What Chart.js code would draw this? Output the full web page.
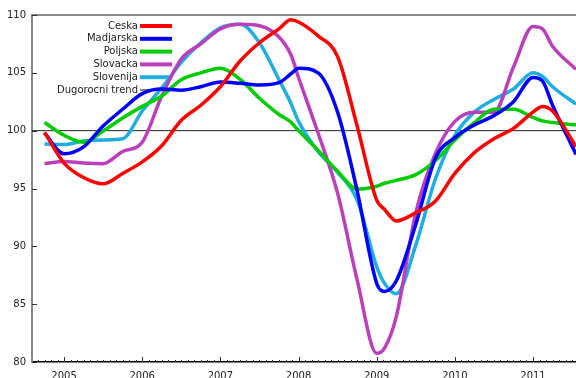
<!DOCTYPE html>
<html>
<head>
<meta charset="utf-8">
<script src="https://cdn.jsdelivr.net/npm/chart.js@4.4.1/dist/chart.umd.min.js"></script>
<style>
html,body{margin:0;padding:0;background:#fff;}
</style>
</head>
<body>
<canvas id="chart" width="576" height="378"></canvas>
<script>
// data (decimal years)
const years = [2004.75, 2005.0, 2005.25, 2005.5, 2005.75, 2006.0, 2006.25, 2006.5, 2006.75,
  2007.0, 2007.25, 2007.5, 2007.75, 2007.9, 2008.0, 2008.25, 2008.5, 2008.75,
  2009.0, 2009.1, 2009.25, 2009.5, 2009.75, 2010.0, 2010.25, 2010.5, 2010.75,
  2011.0, 2011.12, 2011.25, 2011.55];

const ceska = [99.85, 97.2, 95.95, 95.4, 96.3, 97.3, 98.7, 100.9, 102.2,
  103.8, 106.0, 107.6, 108.8, 109.6, 109.4, 108.2, 106.4, 100.4,
  94.0, 93.2, 92.2, 92.9, 93.9, 96.3, 98.1, 99.3, 100.2,
  101.6, 102.1, 101.7, 98.6];

const madjarska = [99.8, 98.0, 98.6, 100.4, 101.85, 103.2, 103.6, 103.5, 103.8,
  104.2, 104.1, 103.95, 104.15, 104.9, 105.4, 105.0, 101.6, 94.8,
  86.8, 86.1, 87.0, 91.9, 97.6, 99.4, 100.5, 101.3, 102.5,
  104.6, 104.3, 102.2, 97.95];

const poljska = [100.7, 99.6, 99.0, 99.97, 101.1, 102.1, 103.0, 104.4, 105.0,
  105.4, 104.45, 102.8, 101.4, 100.75, 100.0, 98.3, 96.5, 94.95,
  95.2, 95.45, 95.7, 96.2, 97.4, 99.2, 100.7, 101.85, 101.85,
  101.15, 100.85, 100.7, 100.5];

const slovacka = [97.15, 97.34, 97.2, 97.15, 98.2, 99.0, 103.0, 106.2, 107.5,
  108.8, 109.2, 109.07, 108.1, 106.6, 104.6, 99.8, 94.6, 87.1,
  80.75, 81.2, 83.9, 92.9, 98.0, 100.8, 101.6, 101.6, 105.5,
  109.0, 108.8, 107.3, 105.3];

const slovenija = [98.85, 98.8, 99.1, 99.2, 99.3, 101.7, 103.7, 105.9, 107.6,
  108.9, 109.2, 107.6, 104.4, 102.4, 100.8, 98.2, 96.4, 94.0,
  88.25, 86.8, 85.9, 90.1, 95.8, 99.6, 101.6, 102.7, 103.6,
  105.0, 104.7, 103.8, 102.3];

const trendYears = [2004.59, 2011.55];
const trendValues = [100, 100];

const yearTicks = [2005, 2006, 2007, 2008, 2009, 2010, 2011];
const valueTicks = [80, 85, 90, 95, 100, 105, 110];

const seriesNames = ['Ceska', 'Madjarska', 'Poljska', 'Slovacka', 'Slovenija'];
const seriesData = [ceska, madjarska, poljska, slovacka, slovenija];
const seriesColors = ['#ff0000', '#0000ff', '#00cc00', '#bb3fbb', '#1eaee0'];

const FONT = 'DejaVu Sans';
const TEXT = '#222';

const datasets = seriesData.map((vals, i) => ({
  label: seriesNames[i],
  data: vals.map((v, j) => ({x: years[j], y: v})),
  borderColor: seriesColors[i],
  borderWidth: 3.5,
  pointRadius: 0,
  cubicInterpolationMode: 'monotone',
  fill: false
}));

datasets.push({
  label: 'Dugorocni trend',
  data: trendValues.map((v, j) => ({x: trendYears[j], y: v})),
  borderColor: '#222',
  borderWidth: 1,
  pointRadius: 0,
  fill: false
});

// frame top, inward ticks, legend in the plot
const extras = {
  id: 'extras',
  beforeDatasetsDraw(chart) {
    const ctx = chart.ctx;
    const a = chart.chartArea;
    const x = chart.scales.x, y = chart.scales.y;
    ctx.save();

    ctx.strokeStyle = '#888';
    ctx.lineWidth = 2;
    ctx.beginPath();
    ctx.moveTo(a.left, a.top);
    ctx.lineTo(a.right, a.top);
    ctx.stroke();

    ctx.strokeStyle = '#333';
    ctx.lineWidth = 1;
    valueTicks.forEach(v => {
      const py = Math.round(y.getPixelForValue(v)) + 0.5;
      ctx.beginPath();
      ctx.moveTo(a.left, py);
      ctx.lineTo(a.left + 5, py);
      ctx.stroke();
    });

    for (let m = Math.ceil(x.min * 12); m <= x.max * 12; m++) {
      const px = Math.round(x.getPixelForValue(m / 12)) + 0.5;
      const len = (m % 12 === 0) ? 5 : 2;
      ctx.beginPath();
      ctx.moveTo(px, a.bottom);
      ctx.lineTo(px, a.bottom - len);
      ctx.stroke();
    }

    ctx.font = '10px "' + FONT + '"';
    ctx.textAlign = 'right';
    ctx.textBaseline = 'middle';
    chart.data.datasets.forEach((ds, i) => {
      const ly = 26 + i * 12.8;
      ctx.fillStyle = TEXT;
      ctx.fillText(ds.label, 138, ly);
      ctx.strokeStyle = ds.borderWidth > 1 ? ds.borderColor : '#555';
      ctx.lineWidth = ds.borderWidth > 1 ? 4 : 1.5;
      ctx.beginPath();
      ctx.moveTo(140, ly);
      ctx.lineTo(172, ly);
      ctx.stroke();
    });

    ctx.restore();
  }
};

new Chart(document.getElementById('chart'), {
  type: 'line',
  data: {datasets: datasets},
  options: {
    responsive: false,
    animation: false,
    layout: {padding: {top: 15, right: 0, left: 0, bottom: 0}},
    plugins: {legend: {display: false}, tooltip: {enabled: false}},
    scales: {
      x: {
        type: 'linear',
        min: 2004.59,
        max: 2011.55,
        afterBuildTicks: s => { s.ticks = yearTicks.map(v => ({value: v})); },
        afterFit: s => { s.height = 16; },
        ticks: {
          callback: v => String(v),
          font: {family: FONT, size: 10},
          color: TEXT,
          padding: 8,
          maxRotation: 0,
          autoSkip: false
        },
        grid: {display: false, drawTicks: false},
        border: {display: true, color: '#000', width: 1.5}
      },
      y: {
        min: 80,
        max: 110,
        afterBuildTicks: s => { s.ticks = valueTicks.map(v => ({value: v})); },
        afterFit: s => { s.width = 32; },
        ticks: {
          font: {family: FONT, size: 10},
          color: TEXT,
          padding: 6
        },
        grid: {display: false, drawTicks: false},
        border: {display: true, color: '#888', width: 2}
      }
    }
  },
  plugins: [extras]
});
</script>
</body>
</html>
